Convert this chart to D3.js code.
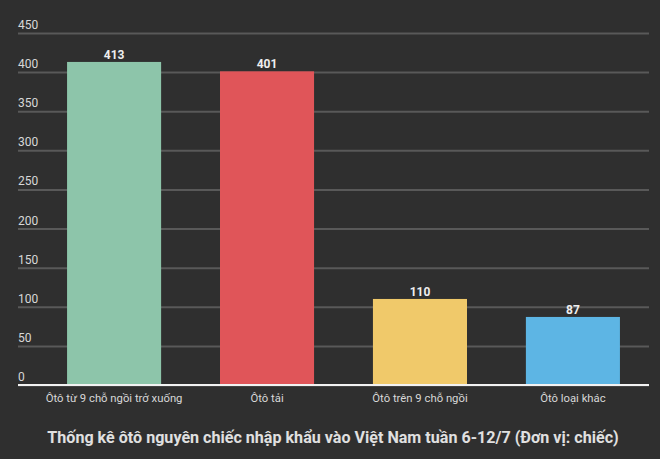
<!DOCTYPE html>
<html>
<head>
<meta charset="utf-8">
<script src="https://cdn.jsdelivr.net/npm/d3@7"></script>
<style>
  html, body { margin:0; padding:0; background:#2f2f2f; }
  svg { display:block; font-family: Roboto, "Noto Sans", sans-serif; }
</style>
</head>
<body>
<div id="chart"></div>
<script>
var categories = ['Ôtô từ 9 chỗ ngồi trở xuống', 'Ôtô tải', 'Ôtô trên 9 chỗ ngồi', 'Ôtô loại khác']
var values     = [413, 401, 110, 87]
var colors     = ['#8dc5aa', '#e05559', '#f0c96a', '#5db5e4']
var yTicks     = [0, 50, 100, 150, 200, 250, 300, 350, 400, 450]
var title      = 'Thống kê ôtô nguyên chiếc nhập khẩu vào Việt Nam tuần 6-12/7 (Đơn vị: chiếc)'

var w = 660
var h = 459
var m = { top:33, right:11, bottom:74, left:18 }

var svg = d3.select('#chart')
    .append('svg')
    .attr('width', w)
    .attr('height', h)

svg.append('rect')
    .attr('width', w)
    .attr('height', h)
    .attr('fill', '#2f2f2f')

var y = d3.scaleLinear()
    .domain([0, 450])
    .range([h-m.bottom, m.top])

var x = d3.scaleBand()
    .domain(categories)
    .range([38, w-m.right])
    .paddingInner(0.385)
    .paddingOuter(0.19)

// grid lines
var grid = svg.append('g')
    .attr('class', 'grid')
    .attr('transform', 'translate(' + m.left + ',0)')
    .call(d3.axisLeft(y).tickValues(yTicks).tickSize(-(w-m.left-m.right)).tickFormat(''))
grid.select('.domain').remove()
grid.selectAll('line')
    .attr('stroke', '#595959')
    .attr('stroke-width', 2)
grid.selectAll('text').remove()

// tick labels sit on top of the lines
svg.append('g')
    .selectAll('text')
    .data(yTicks)
    .join('text')
    .attr('x', m.left)
    .attr('y', d=> y(d) - 4)
    .attr('fill', '#d8d8d8')
    .attr('font-size', 12)
    .text(d=> d)

// bars
svg.append('g')
    .selectAll('rect')
    .data(values)
    .join('rect')
    .attr('x', (d, i)=> x(categories[i]))
    .attr('width', x.bandwidth())
    .attr('y', d=> y(d))
    .attr('height', d=> y(0) - y(d))
    .attr('fill', (d, i)=> colors[i])

// value labels
svg.append('g')
    .selectAll('text')
    .data(values)
    .join('text')
    .attr('x', (d, i)=> x(categories[i]) + x.bandwidth()/2)
    .attr('y', d=> y(d) - 3)
    .attr('text-anchor', 'middle')
    .attr('fill', '#eeeeee')
    .attr('font-size', 12)
    .attr('font-weight', 'bold')
    .text(d=> d)

// baseline
svg.append('line')
    .attr('x1', m.left)
    .attr('x2', w-m.right)
    .attr('y1', y(0))
    .attr('y2', y(0))
    .attr('stroke', '#f2f2f2')
    .attr('stroke-width', 2)

// category labels
var xAxis = svg.append('g')
    .attr('transform', 'translate(0,' + y(0) + ')')
    .call(d3.axisBottom(x).tickSize(0).tickPadding(9))
xAxis.select('.domain').remove()
xAxis.selectAll('text')
    .attr('fill', '#d8d8d8')
    .attr('font-size', 11.3)
    .attr('font-family', 'Roboto, "Noto Sans", sans-serif')

// title
svg.append('text')
    .attr('x', w/2 + 3)
    .attr('y', 443)
    .attr('text-anchor', 'middle')
    .attr('fill', '#e0e0e0')
    .attr('font-size', 16.1)
    .attr('font-weight', 'bold')
    .text(title)
</script>
</body>
</html>
